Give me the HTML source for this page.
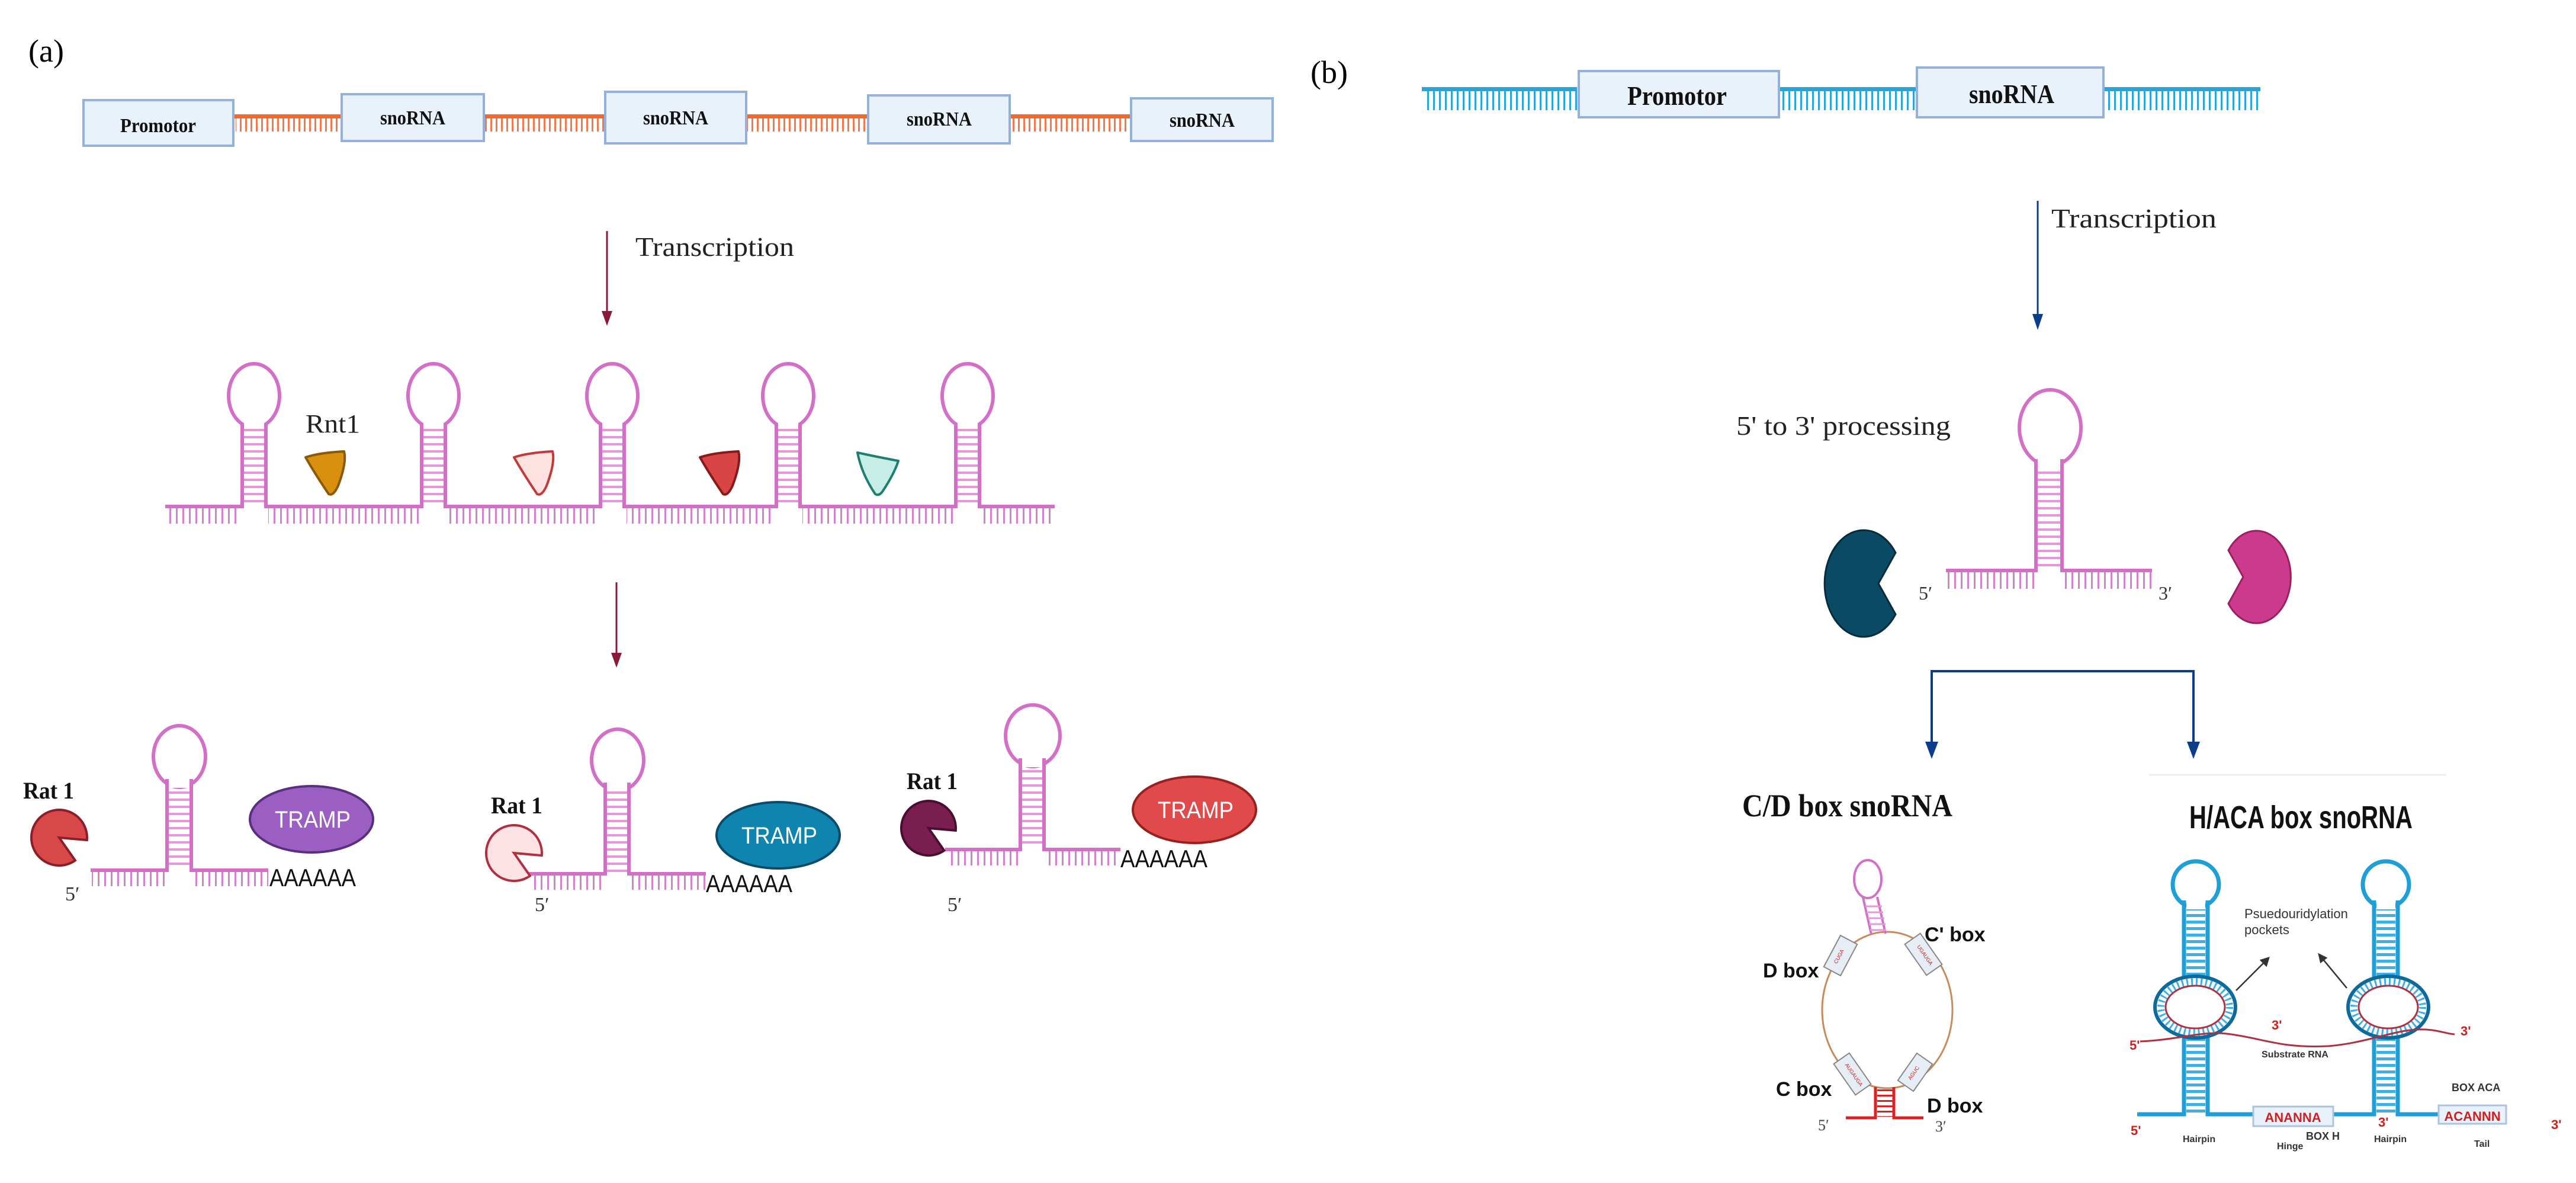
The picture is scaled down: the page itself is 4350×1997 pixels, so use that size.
<!DOCTYPE html>
<html><head><meta charset="utf-8"><style>
html,body{margin:0;padding:0;background:#fff}
svg{display:block}
.serif{font-family:"Liberation Serif",serif}
.sans{font-family:"Liberation Sans",sans-serif}
.nar{font-family:"Liberation Sans Narrow","Liberation Sans",sans-serif}
</style></head><body>
<svg width="4350" height="1997" viewBox="0 0 4350 1997" xmlns="http://www.w3.org/2000/svg">
<defs>
<pattern id="tO" width="9" height="40" patternUnits="userSpaceOnUse"><rect width="3" height="40" fill="#f4784a"/></pattern>
<pattern id="tP" width="11" height="40" patternUnits="userSpaceOnUse"><rect width="3" height="40" fill="#d77fcf"/></pattern>
<pattern id="tB" width="10" height="40" patternUnits="userSpaceOnUse"><rect width="3" height="40" fill="#2aa5dc"/></pattern>
<pattern id="rP" width="10" height="12" patternUnits="userSpaceOnUse"><rect y="4" width="10" height="4" fill="#e596dc"/></pattern>
<pattern id="rB" width="10" height="11" patternUnits="userSpaceOnUse"><rect y="3" width="10" height="5" fill="#3db0e4"/></pattern>
<pattern id="rR" width="10" height="9" patternUnits="userSpaceOnUse"><rect y="3" width="10" height="3" fill="#e02020"/></pattern>
<marker id="mR" viewBox="0 0 10 10" refX="5" refY="10" markerWidth="8" markerHeight="10" markerUnits="userSpaceOnUse" orient="auto" ><path d="M0,0 L10,0 L5,10 Z" fill="#8b1a3a"/></marker>
</defs>

<!-- ============ PANEL A ============ -->
<text x="48" y="104" class="serif" font-size="54">(a)</text>

<!-- DNA strands orange -->
<g>
<rect x="396" y="193" width="180" height="7" fill="#f06a30"/><rect x="398" y="200" width="178" height="22" fill="url(#tO)"/>
<rect x="817" y="193" width="205" height="7" fill="#f06a30"/><rect x="819" y="200" width="203" height="22" fill="url(#tO)"/>
<rect x="1260" y="193" width="206" height="7" fill="#f06a30"/><rect x="1262" y="200" width="204" height="22" fill="url(#tO)"/>
<rect x="1705" y="193" width="205" height="7" fill="#f06a30"/><rect x="1707" y="200" width="203" height="22" fill="url(#tO)"/>
</g>
<g fill="#e9f1fb" stroke="#93b1dc" stroke-width="4">
<rect x="141" y="169" width="253" height="77"/>
<rect x="577" y="159" width="240" height="79"/>
<rect x="1022" y="155" width="238" height="87"/>
<rect x="1466" y="161" width="239" height="81"/>
<rect x="1910" y="166" width="239" height="72"/>
</g>
<g class="serif" font-weight="bold" font-size="34" fill="#111" text-anchor="middle">
<text x="267" y="223" textLength="128" lengthAdjust="spacingAndGlyphs">Promotor</text>
<text x="697" y="210" textLength="110" lengthAdjust="spacingAndGlyphs">snoRNA</text>
<text x="1141" y="210" textLength="110" lengthAdjust="spacingAndGlyphs">snoRNA</text>
<text x="1586" y="212" textLength="110" lengthAdjust="spacingAndGlyphs">snoRNA</text>
<text x="2030" y="214" textLength="110" lengthAdjust="spacingAndGlyphs">snoRNA</text>
</g>

<!-- arrow 1 -->
<line x1="1025" y1="390" x2="1025" y2="530" stroke="#8b1a3a" stroke-width="3"/>
<path d="M1016,525 L1034,525 L1025,550 Z" fill="#8b1a3a"/>
<text x="1073" y="432" class="serif" font-size="46" fill="#222" textLength="268" lengthAdjust="spacingAndGlyphs">Transcription</text>

<!-- long transcript -->
<g stroke="#d46fc8" stroke-width="6" fill="none">
<path d="M279,855 H409 V718 M449,718 V855 H712 V718 M752,718 V855 H1014 V718 M1054,718 V855 H1311 V718 M1351,718 V855 H1614 V718 M1654,718 V855 H1781"/>
<ellipse cx="429" cy="668" rx="43" ry="54"/>
<ellipse cx="732" cy="668" rx="43" ry="54"/>
<ellipse cx="1034" cy="668" rx="43" ry="54"/>
<ellipse cx="1331" cy="668" rx="43" ry="54"/>
<ellipse cx="1634" cy="668" rx="43" ry="54"/>
</g>
<g fill="#fff">
<rect x="412" y="700" width="34" height="30"/><rect x="715" y="700" width="34" height="30"/><rect x="1017" y="700" width="34" height="30"/><rect x="1314" y="700" width="34" height="30"/><rect x="1617" y="700" width="34" height="30"/>
</g>
<g stroke="#d46fc8" stroke-width="6">
<line x1="409" y1="715" x2="409" y2="730"/><line x1="449" y1="715" x2="449" y2="730"/>
<line x1="712" y1="715" x2="712" y2="730"/><line x1="752" y1="715" x2="752" y2="730"/>
<line x1="1014" y1="715" x2="1014" y2="730"/><line x1="1054" y1="715" x2="1054" y2="730"/>
<line x1="1311" y1="715" x2="1311" y2="730"/><line x1="1351" y1="715" x2="1351" y2="730"/>
<line x1="1614" y1="715" x2="1614" y2="730"/><line x1="1654" y1="715" x2="1654" y2="730"/>
</g>
<g fill="url(#rP)">
<rect x="412" y="724" width="34" height="128"/><rect x="715" y="724" width="34" height="128"/><rect x="1017" y="724" width="34" height="128"/><rect x="1314" y="724" width="34" height="128"/><rect x="1617" y="724" width="34" height="128"/>
</g>
<g fill="url(#tP)">
<rect x="281" y="858" width="125" height="26"/><rect x="453" y="858" width="256" height="26"/><rect x="756" y="858" width="256" height="26"/><rect x="1058" y="858" width="250" height="26"/><rect x="1355" y="858" width="256" height="26"/><rect x="1658" y="858" width="123" height="26"/>
</g>
<text x="516" y="730" class="serif" font-size="44" fill="#222" textLength="92" lengthAdjust="spacingAndGlyphs">Rnt1</text>
<g stroke-width="4" stroke-linejoin="round">
<path d="M516,772 Q540,764 581,762 Q586,780 571,820 Q563,838 555,834 Q532,800 516,772 Z" fill="#d9900f" stroke="#8a5a08"/>
<path d="M868,772 Q892,764 933,762 Q938,780 923,820 Q915,838 907,834 Q884,800 868,772 Z" fill="#fde2df" stroke="#c43a3a"/>
<path d="M1182,772 Q1206,764 1247,762 Q1252,780 1237,820 Q1229,838 1221,834 Q1198,800 1182,772 Z" fill="#d94545" stroke="#8a1a1a"/>
<path d="M1448,764 Q1475,770 1517,778 Q1510,800 1490,830 Q1484,838 1478,834 Q1455,800 1448,764 Z" fill="#c7eee6" stroke="#1e7f70"/>
</g>

<!-- arrow 2 -->
<line x1="1041" y1="983" x2="1041" y2="1105" stroke="#8b1a3a" stroke-width="3"/>
<path d="M1032,1102 L1050,1102 L1041,1127 Z" fill="#8b1a3a"/>

<!-- group 1 -->
<g stroke="#d46fc8" stroke-width="6" fill="none">
<path d="M153,1469 H282 V1323 M323,1323 V1469 H453"/>
<ellipse cx="303" cy="1277" rx="44" ry="52"/>
<path d="M892,1475 H1022 V1329 M1062,1329 V1475 H1192"/>
<ellipse cx="1043" cy="1283" rx="44" ry="52"/>
<path d="M1596,1434 H1723 V1288 M1763,1288 V1434 H1892"/>
<ellipse cx="1744" cy="1242" rx="46" ry="52"/>
</g>
<g fill="#fff"><rect x="285" y="1310" width="35" height="20"/><rect x="1025" y="1316" width="34" height="20"/><rect x="1726" y="1275" width="34" height="20"/></g>
<g stroke="#d46fc8" stroke-width="6"><path d="M282,1315 V1330 M323,1315 V1330 M1022,1321 V1336 M1062,1321 V1336 M1723,1280 V1295 M1763,1280 V1295"/></g>
<g fill="url(#rP)"><rect x="285" y="1330" width="35" height="136"/><rect x="1025" y="1336" width="34" height="136"/><rect x="1726" y="1295" width="34" height="136"/></g>
<g fill="url(#tP)">
<rect x="155" y="1472" width="125" height="24"/><rect x="327" y="1472" width="126" height="24"/>
<rect x="894" y="1478" width="126" height="24"/><rect x="1066" y="1478" width="126" height="24"/>
<rect x="1598" y="1437" width="123" height="24"/><rect x="1767" y="1437" width="125" height="24"/>
</g>

<g class="serif" font-weight="bold" font-size="40" fill="#111">
<text x="39" y="1348" textLength="86" lengthAdjust="spacingAndGlyphs">Rat 1</text>
<text x="829" y="1373" textLength="87" lengthAdjust="spacingAndGlyphs">Rat 1</text>
<text x="1531" y="1332" textLength="86" lengthAdjust="spacingAndGlyphs">Rat 1</text>
</g>
<g stroke-width="4">
<path d="M100,1414 L127,1452.5 A47,47 0 1 1 146.8,1418.1 Z" fill="#d94848" stroke="#8a1f2a"/>
<path d="M868,1440 L895,1478.5 A47,47 0 1 1 914.8,1444.1 Z" fill="#fde3e3" stroke="#b03040"/>
<path d="M1568,1398 L1594.4,1435.7 A46,46 0 1 1 1613.8,1402 Z" fill="#7a1d50" stroke="#4a0f30"/>
</g>
<g stroke-width="4">
<ellipse cx="526" cy="1383" rx="104" ry="56" fill="#9b5fc3" stroke="#5a2f80"/>
<ellipse cx="1314" cy="1410" rx="104" ry="56" fill="#0e84ae" stroke="#0a4a6a"/>
<ellipse cx="2017" cy="1367" rx="104" ry="56" fill="#e04a4a" stroke="#9a1f1f"/>
</g>
<g class="sans" font-size="40" fill="#fff" text-anchor="middle">
<text x="528" y="1397" textLength="128" lengthAdjust="spacingAndGlyphs">TRAMP</text>
<text x="1316" y="1424" textLength="128" lengthAdjust="spacingAndGlyphs">TRAMP</text>
<text x="2019" y="1381" textLength="128" lengthAdjust="spacingAndGlyphs">TRAMP</text>
</g>
<g class="sans" font-size="42" fill="#111">
<text x="455" y="1496" textLength="146" lengthAdjust="spacingAndGlyphs">AAAAAA</text>
<text x="1192" y="1506" textLength="146" lengthAdjust="spacingAndGlyphs">AAAAAA</text>
<text x="1892" y="1464" textLength="147" lengthAdjust="spacingAndGlyphs">AAAAAA</text>
</g>
<g class="serif" font-size="34" fill="#333">
<text x="110" y="1520">5′</text><text x="903" y="1538">5′</text><text x="1600" y="1538">5′</text>
</g>

<!-- ============ PANEL B ============ -->
<text x="2213" y="140" class="serif" font-size="54">(b)</text>
<g>
<rect x="2401" y="147" width="262" height="7" fill="#2aa5dc"/><rect x="2403" y="154" width="260" height="32" fill="url(#tB)"/>
<rect x="3006" y="147" width="231" height="7" fill="#2aa5dc"/><rect x="3008" y="154" width="229" height="32" fill="url(#tB)"/>
<rect x="3552" y="147" width="265" height="7" fill="#2aa5dc"/><rect x="3554" y="154" width="263" height="32" fill="url(#tB)"/>
</g>
<g fill="#e9f1fb" stroke="#93b1dc" stroke-width="4">
<rect x="2666" y="120" width="338" height="78"/>
<rect x="3237" y="114" width="315" height="84"/>
</g>
<g class="serif" font-weight="bold" font-size="46" fill="#111" text-anchor="middle">
<text x="2832" y="177" textLength="168" lengthAdjust="spacingAndGlyphs">Promotor</text>
<text x="3397" y="174" textLength="144" lengthAdjust="spacingAndGlyphs">snoRNA</text>
</g>
<line x1="3441" y1="339" x2="3441" y2="535" stroke="#0b3d8a" stroke-width="3"/>
<path d="M3432,530 L3450,530 L3441,557 Z" fill="#0b3d8a"/>
<text x="3464" y="384" class="serif" font-size="46" fill="#222" textLength="279" lengthAdjust="spacingAndGlyphs">Transcription</text>
<text x="2932" y="734" class="serif" font-size="46" fill="#222" textLength="362" lengthAdjust="spacingAndGlyphs">5' to 3' processing</text>

<!-- processing hairpin -->
<g stroke="#d46fc8" stroke-width="6" fill="none">
<path d="M3286,963 H3438 V790 M3482,790 V963 H3634"/>
<ellipse cx="3462" cy="722" rx="52" ry="64"/>
</g>
<rect x="3441" y="770" width="38" height="20" fill="#fff"/>
<path d="M3438,775 V795 M3482,775 V795" stroke="#d46fc8" stroke-width="6"/>
<rect x="3441" y="795" width="38" height="165" fill="url(#rP)"/>
<rect x="3288" y="966" width="148" height="28" fill="url(#tP)"/>
<rect x="3486" y="966" width="148" height="28" fill="url(#tP)"/>
<text x="3240" y="1012" class="serif" font-size="32" fill="#333">5′</text>
<text x="3645" y="1012" class="serif" font-size="32" fill="#333">3′</text>
<path d="M3172,985 L3201,1037 A66,90 0 1 1 3201,933 Z" fill="#0a4a64" stroke="#062c3c" stroke-width="3"/>
<path d="M3788,974 L3763,929 A58,78 0 1 1 3763,1019 Z" fill="#cc3a8e" stroke="#9a1f60" stroke-width="3"/>

<!-- bracket -->
<path d="M3262,1258 V1133 H3704 V1258" fill="none" stroke="#0b3d8a" stroke-width="4"/>
<path d="M3251,1252 L3273,1252 L3262,1281 Z M3693,1252 L3715,1252 L3704,1281 Z" fill="#0b3d8a"/>
<line x1="3629" y1="1308" x2="4131" y2="1308" stroke="#e8eef2" stroke-width="3"/>

<text x="2942" y="1378" class="serif" font-weight="bold" font-size="54" fill="#111" textLength="355" lengthAdjust="spacingAndGlyphs">C/D box snoRNA</text>
<text x="3697" y="1398" class="nar" font-weight="bold" font-size="54" fill="#111" textLength="377" lengthAdjust="spacingAndGlyphs">H/ACA box snoRNA</text>

<!-- C/D diagram -->
<ellipse cx="3187" cy="1705" rx="110" ry="132" fill="none" stroke="#c98a5a" stroke-width="3"/>
<g stroke="#d46fc8" stroke-width="4" fill="none">
<ellipse cx="3154" cy="1484" rx="23" ry="32"/>
<path d="M3146,1515 L3160,1577 M3170,1514 L3184,1576"/>
</g>
<path d="M3150,1530 L3178,1530 M3152,1540 L3180,1540 M3154,1550 L3182,1550 M3156,1560 L3184,1560 M3158,1570 L3184,1570" stroke="#e596dc" stroke-width="3"/>
<g fill="#e6edf4" stroke="#888" stroke-width="2">
<rect x="-16" y="-30" width="32" height="60" transform="translate(3108,1613) rotate(28)"/>
<rect x="-16" y="-32" width="32" height="64" transform="translate(3248,1611) rotate(-35)"/>
<rect x="-16" y="-32" width="32" height="64" transform="translate(3128,1813) rotate(-35)"/>
<rect x="-16" y="-28" width="32" height="56" transform="translate(3234,1810) rotate(35)"/>
</g>
<g class="sans" font-size="9" fill="#d02020" text-anchor="middle">
<text transform="translate(3108,1616) rotate(-62)">CUGA</text>
<text transform="translate(3248,1614) rotate(55)">UGAUGA</text>
<text transform="translate(3128,1816) rotate(55)">AUGAUGA</text>
<text transform="translate(3234,1813) rotate(-55)">AGUC</text>
</g>
<rect x="3170" y="1835" width="26" height="50" fill="url(#rR)"/>
<path d="M3117,1887 H3167 V1835 M3198,1835 V1887 H3248" fill="none" stroke="#e02020" stroke-width="5"/>
<g class="nar" font-weight="bold" font-size="34" fill="#111">
<text x="2977" y="1650">D box</text>
<text x="3250" y="1589">C' box</text>
<text x="2999" y="1850">C box</text>
<text x="3254" y="1878">D box</text>
</g>
<g class="serif" font-size="26" fill="#444"><text x="3070" y="1908">5′</text><text x="3268" y="1910">3′</text></g>

<!-- H/ACA diagram -->
<g stroke="#1e9fd8" stroke-width="7" fill="none">
<path d="M3609,1881 H3688 V1750 M3688,1649 V1527 M3728,1527 V1649 M3728,1750 V1881 H3805"/>
<path d="M3940,1881 H4009 V1750 M4009,1649 V1527 M4049,1527 V1649 M4049,1750 V1881 H4118"/>
<circle cx="3708" cy="1493" r="39"/>
<circle cx="4029" cy="1493" r="39"/>
</g>
<rect x="3692" y="1515" width="32" height="20" fill="#fff"/><rect x="4013" y="1515" width="32" height="20" fill="#fff"/>
<path d="M3688,1520 V1535 M3728,1520 V1535 M4009,1520 V1535 M4049,1520 V1535" stroke="#1e9fd8" stroke-width="7"/>
<g fill="url(#rB)">
<rect x="3692" y="1535" width="32" height="112"/><rect x="3692" y="1752" width="32" height="126"/>
<rect x="4013" y="1535" width="32" height="112"/><rect x="4013" y="1752" width="32" height="126"/>
</g>
<g fill="none">
<ellipse cx="3707" cy="1700" rx="68" ry="52" stroke="#0e6a9a" stroke-width="6"/>
<ellipse cx="3707" cy="1700" rx="58" ry="43" stroke="#3db0e4" stroke-width="12" stroke-dasharray="3 5"/>
<ellipse cx="3707" cy="1700" rx="50" ry="36" stroke="#b03040" stroke-width="3"/>
<ellipse cx="4033" cy="1700" rx="68" ry="52" stroke="#0e6a9a" stroke-width="6"/>
<ellipse cx="4033" cy="1700" rx="58" ry="43" stroke="#3db0e4" stroke-width="12" stroke-dasharray="3 5"/>
<ellipse cx="4033" cy="1700" rx="50" ry="36" stroke="#b03040" stroke-width="3"/>
<path d="M3614,1758 C3680,1755 3720,1740 3760,1745 C3820,1752 3850,1770 3930,1766 C3990,1762 4040,1740 4080,1738 C4110,1736 4130,1745 4145,1746" stroke="#b03040" stroke-width="3"/>
</g>
<g stroke="#333" stroke-width="2.5" fill="#333">
<line x1="3776" y1="1672" x2="3826" y2="1622"/><path d="M3831,1617 L3818,1621 L3827,1630 Z"/>
<line x1="3963" y1="1668" x2="3920" y2="1616"/><path d="M3916,1611 L3919,1624 L3928,1617 Z"/>
</g>
<g fill="#e9f1fb" stroke="#aec3e0" stroke-width="3">
<rect x="3805" y="1868" width="135" height="33"/>
<rect x="4118" y="1866" width="114" height="31"/>
</g>
<g class="nar" font-weight="bold" fill="#d02020">
<text x="3872" y="1894" font-size="22" text-anchor="middle">ANANNA</text>
<text x="4175" y="1892" font-size="22" text-anchor="middle">ACANNN</text>
<text x="3596" y="1772" font-size="22">5'</text>
<text x="3598" y="1916" font-size="22">5'</text>
<text x="3836" y="1738" font-size="22">3'</text>
<text x="4155" y="1748" font-size="22">3'</text>
<text x="4016" y="1902" font-size="22">3'</text>
<text x="4308" y="1906" font-size="22">3'</text>
</g>
<g class="nar" fill="#333">
<text x="3790" y="1550" font-size="22">Psuedouridylation</text>
<text x="3790" y="1577" font-size="22">pockets</text>
<text x="3819" y="1785" font-size="16" font-weight="bold">Substrate RNA</text>
<text x="4140" y="1842" font-size="18" font-weight="bold">BOX ACA</text>
<text x="3686" y="1928" font-size="16" font-weight="bold">Hairpin</text>
<text x="3845" y="1940" font-size="16" font-weight="bold">Hinge</text>
<text x="3894" y="1924" font-size="18" font-weight="bold">BOX H</text>
<text x="4009" y="1928" font-size="16" font-weight="bold">Hairpin</text>
<text x="4178" y="1936" font-size="16" font-weight="bold">Tail</text>
</g>
</svg>
</body></html>
